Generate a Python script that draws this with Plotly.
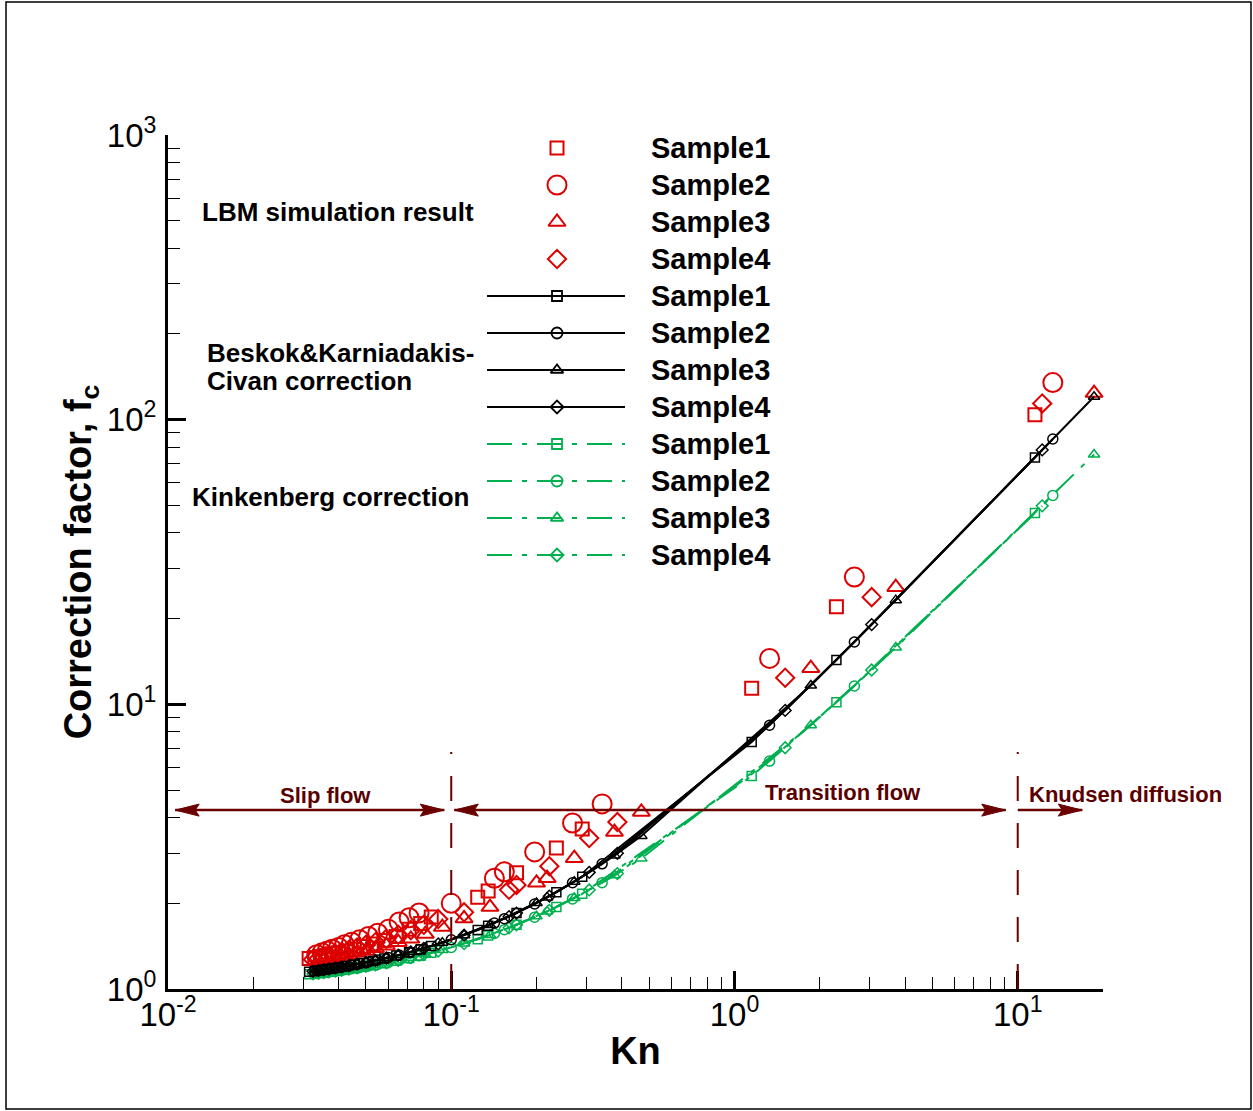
import plotly.graph_objects as go

# ---------------- data ----------------
sample_names = ["Sample1", "Sample2", "Sample3", "Sample4"]

kn_s1 = [0.0315, 0.033, 0.0345, 0.036, 0.038, 0.040, 0.0425, 0.0455, 0.049, 0.053, 0.058, 0.064, 0.071, 0.078, 0.085,
         0.124, 0.135, 0.170, 0.235, 0.290, 1.15, 2.29, 11.5]
lbm_s1 = [1.28, 1.29, 1.30, 1.31, 1.33, 1.34, 1.36, 1.38, 1.41, 1.44, 1.48, 1.53, 1.62, 1.70, 1.79,
          2.10, 2.21, 2.56, 3.13, 3.65, 11.4, 22.0, 104]
bk_s1 = [1.149, 1.157, 1.164, 1.171, 1.181, 1.191, 1.203, 1.218, 1.235, 1.255, 1.280, 1.310, 1.345, 1.380, 1.415,
         1.612, 1.668, 1.848, 2.187, 2.479, 7.37, 14.31, 73.7]
kl_s1 = [1.126, 1.132, 1.138, 1.144, 1.152, 1.160, 1.170, 1.182, 1.196, 1.212, 1.232, 1.256, 1.284, 1.312, 1.340,
         1.496, 1.540, 1.680, 1.940, 2.160, 5.60, 10.16, 47.0]

kn_s2 = [0.0335, 0.035, 0.0365, 0.038, 0.040, 0.042, 0.0445, 0.0475, 0.051, 0.055, 0.060, 0.0655, 0.071, 0.077, 0.100,
         0.142, 0.154, 0.197, 0.268, 0.341, 1.33, 2.65, 13.3]
lbm_s2 = [1.32, 1.34, 1.36, 1.38, 1.40, 1.43, 1.46, 1.49, 1.53, 1.57, 1.62, 1.72, 1.78, 1.85, 2.00,
          2.45, 2.58, 3.03, 3.83, 4.47, 14.5, 28.0, 135]
bk_s2 = [1.159, 1.167, 1.174, 1.181, 1.191, 1.201, 1.213, 1.228, 1.245, 1.265, 1.290, 1.317, 1.345, 1.375, 1.490,
         1.704, 1.766, 1.988, 2.362, 2.752, 8.44, 16.55, 85.5]
kl_s2 = [1.134, 1.140, 1.146, 1.152, 1.160, 1.168, 1.178, 1.190, 1.204, 1.220, 1.240, 1.262, 1.284, 1.308, 1.400,
         1.568, 1.616, 1.788, 2.072, 2.364, 6.32, 11.60, 54.2]

kn_s3 = [0.034, 0.0355, 0.037, 0.039, 0.041, 0.0435, 0.0465, 0.050, 0.054, 0.059, 0.065, 0.072, 0.081, 0.093, 0.111,
         0.137, 0.200, 0.218, 0.272, 0.377, 0.469, 1.86, 3.71, 18.6]
lbm_s3 = [1.25, 1.26, 1.27, 1.29, 1.30, 1.32, 1.34, 1.36, 1.39, 1.42, 1.46, 1.50, 1.56, 1.65, 1.77,
          1.94, 2.36, 2.45, 2.88, 3.56, 4.19, 13.4, 25.8, 124]
bk_s3 = [1.162, 1.169, 1.176, 1.186, 1.196, 1.208, 1.223, 1.240, 1.260, 1.285, 1.315, 1.350, 1.395, 1.455, 1.546,
         1.678, 2.004, 2.098, 2.383, 2.947, 3.450, 11.65, 23.23, 120.4]
kl_s3 = [1.136, 1.142, 1.148, 1.156, 1.164, 1.174, 1.186, 1.200, 1.216, 1.236, 1.260, 1.288, 1.324, 1.372, 1.444,
         1.548, 1.800, 1.872, 2.088, 2.508, 2.876, 8.44, 15.84, 75.4]

kn_s4 = [0.0325, 0.034, 0.0355, 0.037, 0.039, 0.041, 0.0435, 0.0465, 0.050, 0.054, 0.059, 0.065, 0.072, 0.080, 0.090,
         0.111, 0.160, 0.170, 0.222, 0.307, 0.386, 1.51, 3.05, 12.2]
lbm_s4 = [1.27, 1.28, 1.30, 1.31, 1.33, 1.35, 1.37, 1.40, 1.43, 1.46, 1.50, 1.55, 1.61, 1.68, 1.76,
          1.86, 2.23, 2.32, 2.70, 3.39, 3.86, 12.4, 23.8, 114]
bk_s4 = [1.154, 1.162, 1.169, 1.176, 1.186, 1.196, 1.208, 1.223, 1.240, 1.260, 1.285, 1.315, 1.350, 1.390, 1.440,
         1.546, 1.797, 1.848, 2.119, 2.569, 2.996, 9.52, 19.06, 78.3]
kl_s4 = [1.130, 1.136, 1.142, 1.148, 1.156, 1.164, 1.174, 1.186, 1.200, 1.216, 1.236, 1.260, 1.288, 1.320, 1.360,
         1.444, 1.640, 1.680, 1.888, 2.228, 2.544, 7.04, 13.20, 49.8]

x_tickvals = [0.01, 0.1, 1, 10]
x_ticktext = ["10<sup>-2</sup>", "10<sup>-1</sup>", "10<sup>0</sup>", "10<sup>1</sup>"]
y_tickvals = [1, 10, 100, 1000]
y_ticktext = ["10<sup>0</sup>", "10<sup>1</sup>", "10<sup>2</sup>", "10<sup>3</sup>"]

regime_bounds = [0.1, 10.0]
regime_labels = ["Slip flow", "Transition flow", "Knudsen diffusion"]
arrow_level = 4.25
# arrow spans (Kn) : slip, transition, knudsen
arrow_spans = [(0.0106, 0.0945), (0.1025, 9.07), (10.0, 16.9)]

group_labels = ["LBM simulation result", "Beskok&Karniadakis-", "Civan correction", "Kinkenberg correction"]

# ---------------- styling ----------------
FONT = "Liberation Sans, Arial, Helvetica, sans-serif"
RED = "#dd0000"
GREEN = "#00b050"
BLACK = "#000000"
MAROON = "#6b0000"
MAROON_TXT = "#5a0000"
DASHDOT = "25px,10px,5px,10px"

symbols = ["square-open", "circle-open", "triangle-up-open", "diamond-open"]
red_sizes = [13, 19, 15, 14]
small_sizes = [9, 10, 10, 9]

kns = [kn_s1, kn_s2, kn_s3, kn_s4]
lbms = [lbm_s1, lbm_s2, lbm_s3, lbm_s4]
bks = [bk_s1, bk_s2, bk_s3, bk_s4]
kls = [kl_s1, kl_s2, kl_s3, kl_s4]

W, H = 1253, 1111
PLOT_L, PLOT_R, PLOT_T, PLOT_B = 168, 1103, 135, 989


def px2paper_x(px):
    return (px - PLOT_L) / (PLOT_R - PLOT_L)


def px2paper_y(py):
    return (PLOT_B - py) / (PLOT_B - PLOT_T)


fig = go.Figure()

for i in range(4):
    fig.add_trace(go.Scatter(
        x=kns[i], y=lbms[i], mode="markers", name=sample_names[i], showlegend=False,
        marker=dict(symbol=symbols[i], size=red_sizes[i], color=RED, line=dict(color=RED, width=2)),
        cliponaxis=False))

for i in range(4):
    fig.add_trace(go.Scatter(
        x=kns[i], y=kls[i], mode="lines+markers", name=sample_names[i], showlegend=False,
        line=dict(color=GREEN, width=2, dash=DASHDOT),
        marker=dict(symbol=symbols[i], size=small_sizes[i], color=GREEN, line=dict(color=GREEN, width=1.5))))

for i in range(4):
    fig.add_trace(go.Scatter(
        x=kns[i], y=bks[i], mode="lines+markers", name=sample_names[i], showlegend=False,
        line=dict(color=BLACK, width=2),
        marker=dict(symbol=symbols[i], size=small_sizes[i], color=BLACK, line=dict(color=BLACK, width=1.5))))

# ---------------- hand-made legend on a pixel overlay axis ----------------
row_y = [148 + 37 * k for k in range(12)]
LEG_LINE_X = [487, 625]
LEG_MARK_X = 557
LEG_TEXT_X = 649

annotations = []
for k in range(12):
    grp, i = divmod(k, 4)
    y = row_y[k]
    if grp == 0:
        fig.add_trace(go.Scatter(
            x=[LEG_MARK_X], y=[y], xaxis="x2", yaxis="y2", mode="markers", showlegend=False,
            hoverinfo="skip", cliponaxis=False,
            marker=dict(symbol=symbols[i], size=red_sizes[i], color=RED, line=dict(color=RED, width=2))))
    else:
        col = BLACK if grp == 1 else GREEN
        dash = "solid" if grp == 1 else DASHDOT
        fig.add_trace(go.Scatter(
            x=LEG_LINE_X, y=[y, y], xaxis="x2", yaxis="y2", mode="lines", showlegend=False,
            hoverinfo="skip", cliponaxis=False, line=dict(color=col, width=2, dash=dash)))
        fig.add_trace(go.Scatter(
            x=[LEG_MARK_X], y=[y], xaxis="x2", yaxis="y2", mode="markers", showlegend=False,
            hoverinfo="skip", cliponaxis=False,
            marker=dict(symbol=symbols[i], size=small_sizes[i] + 1, color=col,
                        line=dict(color=col, width=1.8))))
    annotations.append(dict(
        x=px2paper_x(LEG_TEXT_X), y=px2paper_y(y), xref="paper", yref="paper",
        text="<b>%s</b>" % sample_names[i],
        showarrow=False, xanchor="left", yanchor="middle",
        font=dict(family=FONT, size=29, color="black")))

# group labels
for txt, (gx, gy) in zip(group_labels, [(200, 212), (205, 353), (205, 381), (190, 497)]):
    annotations.append(dict(
        x=px2paper_x(gx), y=px2paper_y(gy), xref="paper", yref="paper", text="<b>%s</b>" % txt,
        showarrow=False, xanchor="left", yanchor="middle", font=dict(family=FONT, size=26, color="black")))

# regime labels
for txt, (gx, gy) in zip(regime_labels, [(325, 795), (843, 792), (1125, 794)]):
    annotations.append(dict(
        x=px2paper_x(gx), y=px2paper_y(gy), xref="paper", yref="paper", text="<b>%s</b>" % txt,
        showarrow=False, xanchor="center", yanchor="middle", font=dict(family=FONT, size=22, color=MAROON_TXT)))

# ---------------- regime shapes ----------------
shapes = []
for b in regime_bounds:
    shapes.append(dict(type="line", xref="x", yref="y", x0=b, x1=b, y0=1.0, y1=6.8,
                       line=dict(color=MAROON, width=2, dash="25px,22px")))

HEAD_L = "M0,0 L24,-6 L20,0 L24,6 Z"
HEAD_R = "M0,0 L-24,-6 L-20,0 L-24,6 Z"
for j, (a, b) in enumerate(arrow_spans):
    shapes.append(dict(type="line", xref="x", yref="y", x0=a, x1=b, y0=arrow_level, y1=arrow_level,
                       line=dict(color=MAROON, width=2.5)))
    if j < 2:
        shapes.append(dict(type="path", xref="x", yref="y", xsizemode="pixel", ysizemode="pixel",
                           xanchor=a, yanchor=arrow_level, path=HEAD_L,
                           fillcolor=MAROON, line=dict(color=MAROON, width=1)))
    shapes.append(dict(type="path", xref="x", yref="y", xsizemode="pixel", ysizemode="pixel",
                       xanchor=b, yanchor=arrow_level, path=HEAD_R,
                       fillcolor=MAROON, line=dict(color=MAROON, width=1)))

# outer frame
shapes.append(dict(type="rect", xref="paper", yref="paper",
                   x0=px2paper_x(6), x1=px2paper_x(1251), y0=px2paper_y(1109), y1=px2paper_y(2),
                   line=dict(color="black", width=1.5), fillcolor="rgba(0,0,0,0)", layer="below"))

axis_common = dict(
    type="log", showgrid=False, zeroline=False, showline=True, linecolor="black", linewidth=3,
    mirror=False, ticks="inside", ticklen=18, tickwidth=3, tickcolor="black",
    tickfont=dict(family=FONT, size=33, color="black"),
    minor=dict(ticks="inside", ticklen=12, tickwidth=1, tickcolor="black", dtick="D1", showgrid=False),
)

fig.update_layout(
    width=W, height=H,
    margin=dict(l=PLOT_L, r=W - PLOT_R, t=PLOT_T, b=H - PLOT_B, pad=0),
    paper_bgcolor="white", plot_bgcolor="white",
    font=dict(family=FONT, color="black"),
    showlegend=False,
    xaxis=dict(range=[-2, 1.30103], tickmode="array", tickvals=x_tickvals, ticktext=x_ticktext,
               ticklabelstandoff=-6,
               title=dict(text="<b>Kn</b>", font=dict(family=FONT, size=38), standoff=6),
               **axis_common),
    yaxis=dict(range=[0, 3], tickmode="array", tickvals=y_tickvals, ticktext=y_ticktext,
               ticklabelstandoff=2,
               title=dict(text="<b>Correction factor, f<sub>c</sub></b>",
                          font=dict(family=FONT, size=38), standoff=4),
               **axis_common),
    xaxis2=dict(overlaying="x", range=[PLOT_L, PLOT_R], visible=False, fixedrange=True),
    yaxis2=dict(overlaying="y", range=[PLOT_B, PLOT_T], visible=False, fixedrange=True),
    annotations=annotations,
    shapes=shapes,
)

fig.write_html("out.html", config={"displayModeBar": False},
               post_script="document.body.style.margin='0px';")
